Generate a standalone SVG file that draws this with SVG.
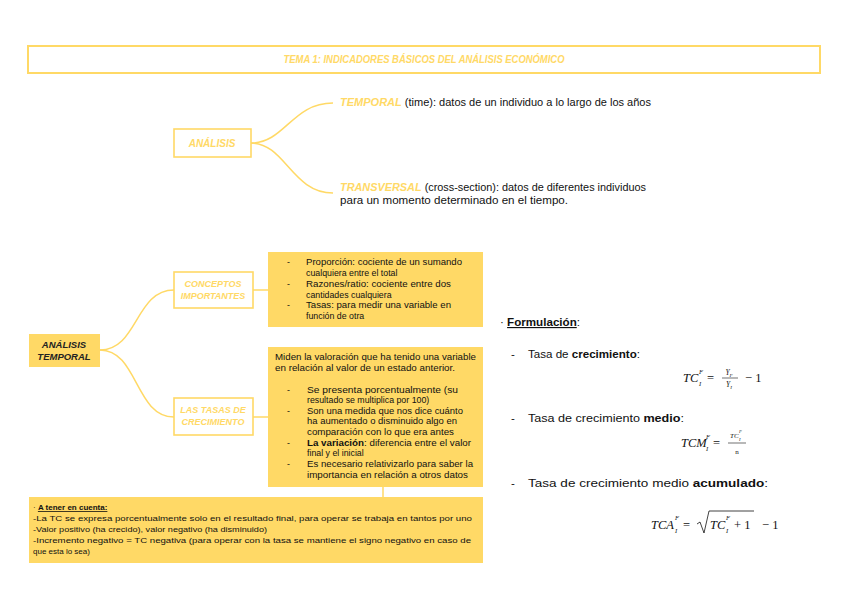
<svg xmlns="http://www.w3.org/2000/svg" width="848" height="600" viewBox="0 0 848 600">
<style>
.y{fill:#FFD966}
.ys{fill:none;stroke:#FFD966;stroke-width:2}
.box{fill:#fff;stroke:#FFD966;stroke-width:1.6}
.fill{fill:#FFD966}
.h{font-family:"Liberation Sans",Arial,sans-serif;font-weight:bold;font-style:italic;}
.t{font-family:"Liberation Sans",Arial,sans-serif;fill:#111}
.b{font-weight:bold}
.m{font-family:"Liberation Serif","Times New Roman",serif;font-style:italic;fill:#111}
.mr{font-family:"Liberation Serif","Times New Roman",serif;fill:#111}
.c{fill:none;stroke:#FFD966;stroke-width:1.5}
</style>
<rect width="848" height="600" fill="#fff"/>

<g id="title">
<rect x="28" y="46" width="792" height="27" class="ys"/>
<text x="424" y="63" text-anchor="middle" class="h y" font-size="10.5" textLength="281" lengthAdjust="spacingAndGlyphs">TEMA 1: INDICADORES BÁSICOS DEL ANÁLISIS ECONÓMICO</text>
</g>

<g id="connectors">
<path class="c" d="M251,143 C285,143 292,103 333,103"/>
<path class="c" d="M251,143 C285,143 292,193 333,193"/>
<path class="c" d="M100,350 C138,350 135,290 174,290"/>
<path class="c" d="M100,350 C138,350 135,417 174,417"/>
<path class="c" d="M253,290 H268"/>
<path class="c" d="M253,417 H268"/>
<path class="c" d="M383,487 V497"/>
</g>

<g id="analisis">
<rect x="174" y="129" width="77" height="28" class="box"/>
<text x="212" y="147" text-anchor="middle" class="h y" font-size="10">ANÁLISIS</text>
</g>

<g id="temporal">
<text x="340" y="106" class="t" font-size="10.5" textLength="311" lengthAdjust="spacingAndGlyphs"><tspan class="h y" font-weight="normal">TEMPORAL</tspan> (time): datos de un individuo a lo largo de los años</text>
</g>

<g id="transversal">
<text x="340" y="191" class="t" font-size="10.5" textLength="306" lengthAdjust="spacingAndGlyphs"><tspan class="h y" font-weight="normal">TRANSVERSAL</tspan> (cross-section): datos de diferentes individuos</text>
<text x="340" y="204" class="t" font-size="10.5" textLength="228" lengthAdjust="spacingAndGlyphs">para un momento determinado en el tiempo.</text>
</g>

<g id="analisis-temporal">
<rect x="29" y="334" width="71" height="33" class="fill"/>
<text x="64" y="348" text-anchor="middle" class="h" fill="#222" font-size="9.5">ANÁLISIS</text>
<text x="64" y="360" text-anchor="middle" class="h" fill="#222" font-size="9.5">TEMPORAL</text>
</g>

<g id="conceptos">
<rect x="174" y="272" width="79" height="36" class="box"/>
<text x="213" y="287" text-anchor="middle" class="h y" font-size="9">CONCEPTOS</text>
<text x="213" y="299" text-anchor="middle" class="h y" font-size="9">IMPORTANTES</text>
</g>

<g id="tasas">
<rect x="174" y="398" width="79" height="37" class="box"/>
<text x="213" y="413" text-anchor="middle" class="h y" font-size="9">LAS TASAS DE</text>
<text x="213" y="425" text-anchor="middle" class="h y" font-size="9">CRECIMIENTO</text>
</g>

<g id="conceptos-detail">
<rect x="268" y="252" width="215" height="75" class="fill"/>
<g class="t" font-size="8.8">
<text x="287" y="265">-</text>
<text x="306" y="265" textLength="156" lengthAdjust="spacingAndGlyphs">Proporción: cociente de un sumando</text>
<text x="306" y="276">cualquiera entre el total</text>
<text x="287" y="287">-</text>
<text x="306" y="287" textLength="145" lengthAdjust="spacingAndGlyphs">Razones/ratio: cociente entre dos</text>
<text x="306" y="298">cantidades cualquiera</text>
<text x="287" y="308">-</text>
<text x="306" y="308" textLength="145" lengthAdjust="spacingAndGlyphs">Tasas: para medir una variable en</text>
<text x="306" y="319">función de otra</text>
</g>
</g>

<g id="tasas-detail">
<rect x="268" y="347" width="215" height="140" class="fill"/>
<g class="t" font-size="8.8">
<text x="275" y="360" textLength="201" lengthAdjust="spacingAndGlyphs">Miden la valoración que ha tenido una variable</text>
<text x="275" y="371" textLength="180" lengthAdjust="spacingAndGlyphs">en relación al valor de un estado anterior.</text>
<text x="287" y="393">-</text>
<text x="307" y="393" textLength="151" lengthAdjust="spacingAndGlyphs">Se presenta porcentualmente  (su</text>
<text x="307" y="403">resultado se multiplica por 100)</text>
<text x="287" y="414">-</text>
<text x="307" y="414" textLength="156" lengthAdjust="spacingAndGlyphs">Son una medida que nos dice cuánto</text>
<text x="307" y="424" textLength="150" lengthAdjust="spacingAndGlyphs">ha aumentado o disminuido algo en</text>
<text x="307" y="435" textLength="147" lengthAdjust="spacingAndGlyphs">comparación con lo que era antes</text>
<text x="287" y="446">-</text>
<text x="307" y="446" textLength="164" lengthAdjust="spacingAndGlyphs"><tspan class="b">La variación</tspan>: diferencia entre el valor</text>
<text x="307" y="456">final y el inicial</text>
<text x="287" y="467">-</text>
<text x="307" y="467" textLength="166" lengthAdjust="spacingAndGlyphs">Es necesario relativizarlo para saber la</text>
<text x="307" y="478" textLength="161" lengthAdjust="spacingAndGlyphs">importancia en relación a otros datos</text>
</g>
</g>

<g id="tener-en-cuenta">
<rect x="29" y="497" width="454" height="66" class="fill"/>
<g class="t" font-size="8">
<text x="33" y="510">· <tspan class="b" text-decoration="underline">A tener en cuenta:</tspan></text>
<text x="33" y="521" textLength="439" lengthAdjust="spacingAndGlyphs">-La TC se expresa porcentualmente solo en el resultado final, para operar se trabaja en tantos por uno</text>
<text x="33" y="532" textLength="234" lengthAdjust="spacingAndGlyphs">-Valor positivo (ha crecido), valor negativo (ha disminuido)</text>
<text x="33" y="543" textLength="438" lengthAdjust="spacingAndGlyphs">-Incremento negativo = TC negativa (para operar con la tasa se mantiene el signo negativo en caso de</text>
<text x="33" y="554">que esta lo sea)</text>
</g>
</g>

<g id="formulacion">
<g class="t" font-size="11.5">
<text x="500" y="326" textLength="80" lengthAdjust="spacingAndGlyphs">· <tspan class="b" text-decoration="underline">Formulación</tspan>:</text>
<text x="511" y="358">-</text>
<text x="528" y="358" textLength="112" lengthAdjust="spacingAndGlyphs">Tasa de <tspan class="b">crecimiento</tspan>:</text>
<text x="511" y="422">-</text>
<text x="528" y="422" textLength="156" lengthAdjust="spacingAndGlyphs">Tasa de crecimiento <tspan class="b">medio</tspan>:</text>
<text x="511" y="487">-</text>
<text x="528" y="487" textLength="240" lengthAdjust="spacingAndGlyphs">Tasa de crecimiento medio <tspan class="b">acumulado</tspan>:</text>
</g>

<!-- TC_I^F = Y_F/Y_I - 1 -->
<text x="683" y="382" class="m" font-size="12.5">TC</text>
<text x="699" y="374" class="m" font-size="6.5">F</text>
<text x="699" y="386" class="m" font-size="6.5">I</text>
<text x="707" y="382" class="mr" font-size="12.5">=</text>
<text x="729" y="375" class="m" font-size="7.5" text-anchor="middle">Y<tspan font-size="5" dy="1.5">F</tspan></text>
<line x1="722" y1="378" x2="738" y2="378" stroke="#111" stroke-width="0.6"/>
<text x="729" y="387" class="m" font-size="7.5" text-anchor="middle">Y<tspan font-size="5" dy="1.5">I</tspan></text>
<text x="745" y="382" class="mr" font-size="12.5">−  1</text>

<!-- TCM -->
<text x="681" y="447" class="m" font-size="12.5">TCM</text>
<text x="706" y="439" class="m" font-size="6.5">F</text>
<text x="706" y="451" class="m" font-size="6.5">I</text>
<text x="713" y="447" class="mr" font-size="12.5">=</text>
<text x="730" y="438" class="m" font-size="7">TC</text>
<text x="739" y="433" class="m" font-size="4.5">F</text>
<text x="739" y="441" class="m" font-size="4.5">I</text>
<line x1="728" y1="443" x2="746" y2="443" stroke="#111" stroke-width="0.6"/>
<text x="737" y="454" class="mr" font-size="7" text-anchor="middle">n</text>

<!-- TCA -->
<text x="651" y="529" class="m" font-size="12.5">TCA</text>
<text x="675" y="520" class="m" font-size="6.5">F</text>
<text x="675" y="533" class="m" font-size="6.5">I</text>
<text x="683" y="529" class="mr" font-size="12.5">=</text>
<path d="M697,524 L700,522 L704,533 L709,511 H754" fill="none" stroke="#111" stroke-width="0.8"/>
<text x="710" y="529" class="m" font-size="12.5">TC</text>
<text x="726" y="520" class="m" font-size="6.5">F</text>
<text x="726" y="533" class="m" font-size="6.5">I</text>
<text x="734" y="529" class="mr" font-size="12.5">+ 1</text>
<text x="762" y="529" class="mr" font-size="12.5">−  1</text>
</g>
</svg>
